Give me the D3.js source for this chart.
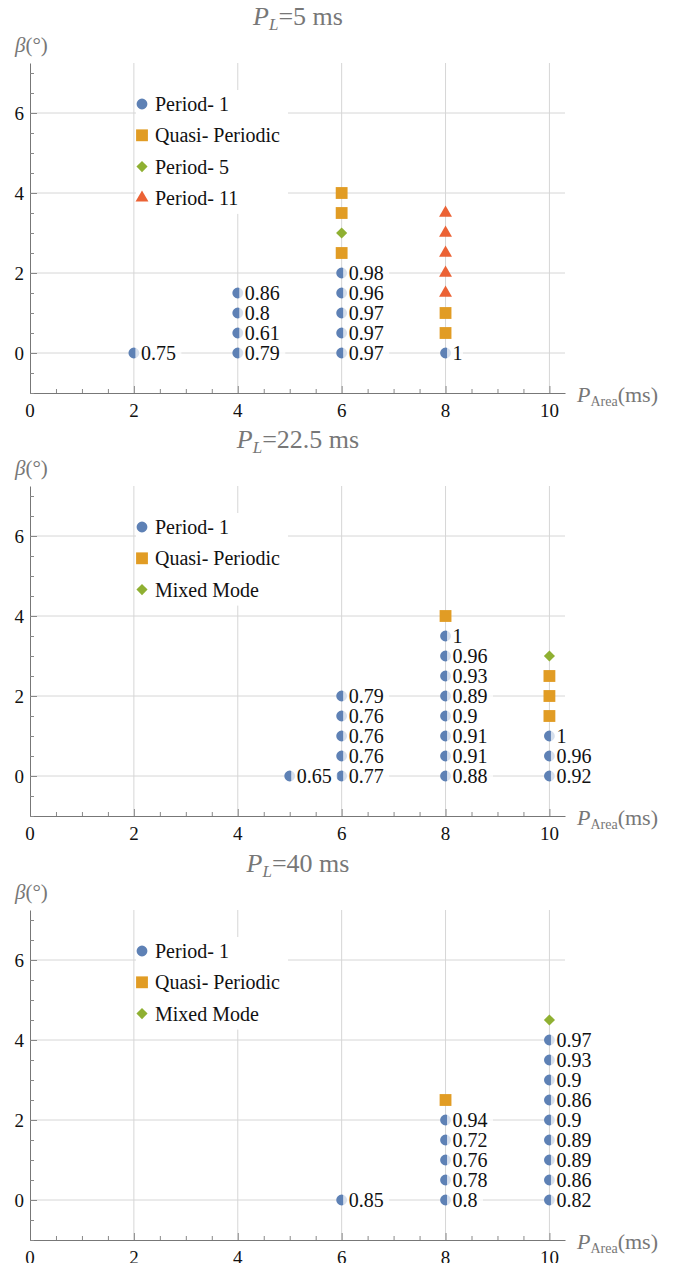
<!DOCTYPE html>
<html>
<head>
<meta charset="utf-8">
<script src="https://cdn.jsdelivr.net/npm/d3@7"></script>
<style>
  body { margin: 0; background: #fff; }
</style>
</head>
<body>
<div id="chart"></div>
<script>
// data, [P_Area, beta, label]
var xTicks = [0, 2, 4, 6, 8, 10];
var yTicks = [0, 2, 4, 6];

var pl5Period1 = [[2,0,0.75],[4,0,0.79],[4,0.5,0.61],[4,1,0.8],[4,1.5,0.86],
  [6,0,0.97],[6,0.5,0.97],[6,1,0.97],[6,1.5,0.96],[6,2,0.98],[8,0,1]];
var pl5Quasi = [[6,2.5],[6,3.5],[6,4],[8,0.5],[8,1]];
var pl5Period5 = [[6,3]];
var pl5Period11 = [[8,1.5],[8,2],[8,2.5],[8,3],[8,3.5]];

var pl22Period1 = [[5,0,0.65],[6,0,0.77],[6,0.5,0.76],[6,1,0.76],[6,1.5,0.76],[6,2,0.79],
  [8,0,0.88],[8,0.5,0.91],[8,1,0.91],[8,1.5,0.9],[8,2,0.89],[8,2.5,0.93],[8,3,0.96],[8,3.5,1],
  [10,0,0.92],[10,0.5,0.96],[10,1,1]];
var pl22Quasi = [[8,4],[10,1.5],[10,2],[10,2.5]];
var pl22Mixed = [[10,3]];

var pl40Period1 = [[6,0,0.85],[8,0,0.8],[8,0.5,0.78],[8,1,0.76],[8,1.5,0.72],[8,2,0.94],
  [10,0,0.82],[10,0.5,0.86],[10,1,0.89],[10,1.5,0.89],[10,2,0.9],[10,2.5,0.86],[10,3,0.9],
  [10,3.5,0.93],[10,4,0.97]];
var pl40Quasi = [[8,2.5]];
var pl40Mixed = [[10,4.5]];

var colors = { circle: '#5E81B5', square: '#E19C24', diamond: '#8FB032', triangle: '#EB6235' };
var serif = "'Liberation Serif', Tinos, 'Times New Roman', Times, 'DejaVu Serif', serif";

var panels = [
  { title: '=5 ms', top: 63, series: [
    { name: 'Period- 1', shape: 'circle', data: pl5Period1 },
    { name: 'Quasi- Periodic', shape: 'square', data: pl5Quasi },
    { name: 'Period- 5', shape: 'diamond', data: pl5Period5 },
    { name: 'Period- 11', shape: 'triangle', data: pl5Period11 }] },
  { title: '=22.5 ms', top: 486, series: [
    { name: 'Period- 1', shape: 'circle', data: pl22Period1 },
    { name: 'Quasi- Periodic', shape: 'square', data: pl22Quasi },
    { name: 'Mixed Mode', shape: 'diamond', data: pl22Mixed }] },
  { title: '=40 ms', top: 910, series: [
    { name: 'Period- 1', shape: 'circle', data: pl40Period1 },
    { name: 'Quasi- Periodic', shape: 'square', data: pl40Quasi },
    { name: 'Mixed Mode', shape: 'diamond', data: pl40Mixed }] }
];

var svg = d3.select('#chart').append('svg')
  .attr('width', 676).attr('height', 1263)
  .attr('font-family', serif);

var symbols = {
  circle: d3.symbol().type(d3.symbolCircle).size(92),
  square: d3.symbol().type(d3.symbolSquare).size(140),
  diamond: d3.symbol().type(d3.symbolSquare).size(62),
  triangle: d3.symbol().type(d3.symbolTriangle).size(72)
};
var rot = { circle: 0, square: 0, diamond: 45, triangle: 0 };

panels.forEach(function(p) {
  var g = svg.append('g');
  var x = d3.scaleLinear().domain([0, 10.3]).range([30, 565]);
  var y = d3.scaleLinear().domain([-1, 7.25]).range([p.top + 330, p.top]);

  // grid
  g.selectAll('.vgrid').data(xTicks.slice(1)).join('line')
    .attr('x1', d => x(d)).attr('x2', d => x(d))
    .attr('y1', y(7.25)).attr('y2', y(-1))
    .attr('stroke', '#d6d6d6').attr('stroke-width', 1);
  g.selectAll('.hgrid').data(yTicks).join('line')
    .attr('x1', x(0)).attr('x2', x(10.3))
    .attr('y1', d => y(d)).attr('y2', d => y(d))
    .attr('stroke', '#d6d6d6').attr('stroke-width', 1);

  // axes
  var xAxis = g.append('g').attr('transform', 'translate(0,' + y(-1) + ')')
    .call(d3.axisBottom(x).tickValues(d3.range(0, 10.3, 0.5)).tickSize(0).tickFormat(''));
  xAxis.selectAll('.tick line').attr('y2', d => (d % 2 === 0 ? -7 : -4)).attr('stroke', '#888');
  xAxis.select('.domain').attr('stroke', '#777');
  xTicks.forEach(function(t) {
    g.append('text').attr('x', x(t)).attr('y', y(-1) + 24)
      .attr('text-anchor', 'middle').attr('font-size', 19).attr('fill', '#111').text(t);
  });

  var yAxis = g.append('g').attr('transform', 'translate(' + x(0) + ',0)')
    .call(d3.axisLeft(y).tickValues(d3.range(-1, 7.25, 0.5)).tickSize(0).tickFormat(''));
  yAxis.selectAll('.tick line').attr('x2', d => (d % 2 === 0 ? 7 : 4)).attr('stroke', '#888');
  yAxis.select('.domain').attr('stroke', '#777');
  yTicks.forEach(function(t) {
    g.append('text').attr('x', x(0) - 6).attr('y', y(t) + 7)
      .attr('text-anchor', 'end').attr('font-size', 19).attr('fill', '#111').text(t);
  });

  // axis labels
  var xl = g.append('text').attr('x', 577).attr('y', y(-1) + 9).attr('fill', '#777').attr('font-size', 22);
  xl.append('tspan').attr('font-style', 'italic').text('P');
  xl.append('tspan').attr('font-size', 14).attr('dy', 4).text('Area');
  xl.append('tspan').attr('dy', -4).text('(ms)');

  var yl = g.append('text').attr('x', 15).attr('y', p.top - 11).attr('fill', '#777').attr('font-size', 21);
  yl.append('tspan').attr('font-style', 'italic').text('β');
  yl.append('tspan').text('(°)');

  // title
  var tt = g.append('text').attr('x', 298).attr('y', p.top - 38).attr('text-anchor', 'middle')
    .attr('fill', '#777').attr('font-size', 26);
  tt.append('tspan').attr('font-style', 'italic').text('P');
  tt.append('tspan').attr('font-style', 'italic').attr('font-size', 17).attr('dy', 5).text('L');
  tt.append('tspan').attr('dy', -5).text(p.title);

  // legend box hides grid behind it
  var n = p.series.length;
  g.append('rect').attr('x', 136).attr('y', p.top + 27).attr('width', 152).attr('height', (n - 1) * 31.3 + 30)
    .attr('fill', '#fff');
  p.series.forEach(function(s, i) {
    var ly = p.top + 41 + i * 31.3;
    g.append('path').attr('d', symbols[s.shape]()).attr('fill', colors[s.shape])
      .attr('transform', 'translate(142,' + ly + ') rotate(' + rot[s.shape] + ')');
    g.append('text').attr('x', 155).attr('y', ly + 7).attr('font-size', 20).attr('fill', '#111').text(s.name);
  });

  // points
  p.series.forEach(function(s) {
    g.selectAll(null).data(s.data).join('path')
      .attr('d', symbols[s.shape]()).attr('fill', colors[s.shape])
      .attr('transform', d => 'translate(' + x(d[0]) + ',' + y(d[1]) + ') rotate(' + rot[s.shape] + ')');
  });

  // value labels with a white backing
  var lab = p.series[0].data;
  var lg = g.selectAll(null).data(lab).join('g')
    .attr('transform', d => 'translate(' + x(d[0]) + ',' + y(d[1]) + ')');
  lg.append('rect').attr('x', 1.5).attr('y', -10).attr('height', 20)
    .attr('width', d => String(d[2]).length * 10 + 6)
    .attr('fill', '#fff').attr('opacity', 0.75);
  lg.append('text').attr('x', 7).attr('y', 7).attr('font-size', 20).attr('fill', '#111')
    .text(d => String(d[2]));
});
</script>
</body>
</html>
